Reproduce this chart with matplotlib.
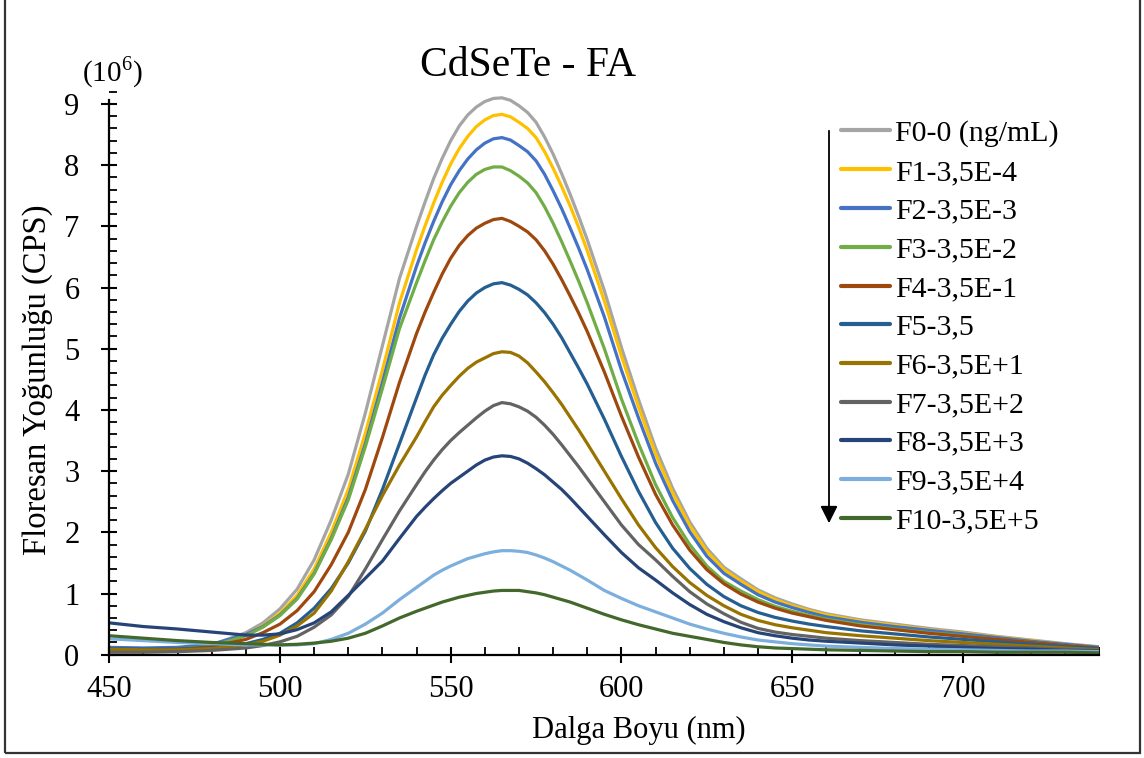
import matplotlib
matplotlib.use("Agg")
import matplotlib.pyplot as plt
from matplotlib.patches import Rectangle, FancyArrowPatch
from matplotlib.ticker import MultipleLocator

# Emission wavelengths (nm); denser sampling around the emission maximum
wavelength = [450, 460, 470, 480, 490,
              495, 500, 505, 510, 515, 520, 525, 530, 535, 540,
              542.5, 545, 547.5, 550, 552.5, 555, 557.5, 560, 562.5, 565,
              567.5, 570, 572.5, 575, 577.5, 580, 582.5, 585, 587.5, 590,
              595, 600, 605, 610, 615, 620, 625, 630, 635, 640,
              645, 650, 655, 660,
              670, 680, 690, 700, 710, 720, 730, 740]

# Fluorescence intensity (x10^6 CPS) per folic acid concentration
F0 = [0.05, 0.06, 0.09, 0.16, 0.36,
      0.52, 0.75, 1.07, 1.55, 2.20, 2.95, 3.95, 5.05, 6.15, 7.00,
      7.40, 7.78, 8.11, 8.40, 8.64, 8.82, 8.95, 9.04, 9.09, 9.10,
      9.06, 8.97, 8.86, 8.70, 8.46, 8.18, 7.86, 7.52, 7.16, 6.78,
      5.95, 5.02, 4.17, 3.38, 2.72, 2.17, 1.74, 1.43, 1.24, 1.06,
      0.93, 0.83, 0.74, 0.67,
      0.57, 0.50, 0.43, 0.37, 0.30, 0.24, 0.18, 0.13]
F1 = [0.06, 0.07, 0.09, 0.15, 0.33,
      0.47, 0.68, 0.97, 1.40, 2.00, 2.70, 3.62, 4.65, 5.75, 6.62,
      7.01, 7.38, 7.72, 8.02, 8.27, 8.47, 8.63, 8.74, 8.81, 8.83,
      8.79, 8.70, 8.60, 8.45, 8.22, 7.95, 7.65, 7.33, 6.98, 6.60,
      5.78, 4.88, 4.05, 3.28, 2.64, 2.11, 1.69, 1.39, 1.20, 1.03,
      0.90, 0.80, 0.72, 0.65,
      0.55, 0.48, 0.41, 0.35, 0.29, 0.23, 0.17, 0.12]
F2 = [0.12, 0.11, 0.12, 0.17, 0.33,
      0.46, 0.65, 0.92, 1.33, 1.90, 2.57, 3.45, 4.45, 5.50, 6.35,
      6.73, 7.08, 7.40, 7.68, 7.91, 8.10, 8.25, 8.36, 8.43, 8.45,
      8.41, 8.32, 8.22, 8.07, 7.85, 7.58, 7.29, 6.97, 6.64, 6.29,
      5.52, 4.65, 3.87, 3.13, 2.52, 2.01, 1.61, 1.33, 1.15, 0.98,
      0.86, 0.77, 0.69, 0.62,
      0.53, 0.46, 0.40, 0.34, 0.28, 0.22, 0.17, 0.12]
F3 = [0.07, 0.07, 0.09, 0.14, 0.31,
      0.45, 0.64, 0.91, 1.32, 1.88, 2.53, 3.40, 4.35, 5.33, 6.08,
      6.44, 6.78, 7.07, 7.33, 7.55, 7.72, 7.85, 7.93, 7.97, 7.97,
      7.91, 7.82, 7.71, 7.55, 7.32, 7.05, 6.75, 6.43, 6.10, 5.75,
      5.00, 4.18, 3.45, 2.78, 2.24, 1.80, 1.45, 1.20, 1.04, 0.90,
      0.79, 0.71, 0.64, 0.58,
      0.49, 0.42, 0.36, 0.31, 0.25, 0.20, 0.15, 0.11]
F4 = [0.08, 0.08, 0.09, 0.13, 0.25,
      0.36, 0.50, 0.72, 1.03, 1.47, 2.00, 2.70, 3.55, 4.45, 5.25,
      5.60, 5.92, 6.22, 6.48, 6.69, 6.85, 6.97, 7.05, 7.11, 7.13,
      7.08, 7.00, 6.91, 6.78, 6.60, 6.38, 6.13, 5.86, 5.58, 5.28,
      4.62, 3.90, 3.23, 2.62, 2.12, 1.71, 1.39, 1.16, 0.99, 0.86,
      0.76, 0.68, 0.62, 0.56,
      0.47, 0.41, 0.35, 0.30, 0.25, 0.20, 0.15, 0.11]
F5 = [0.10, 0.09, 0.09, 0.11, 0.18,
      0.25, 0.35, 0.52, 0.76, 1.08, 1.50, 2.02, 2.70, 3.45, 4.20,
      4.57, 4.90, 5.17, 5.40, 5.61, 5.78, 5.91, 6.00, 6.06, 6.08,
      6.04, 5.97, 5.88, 5.75, 5.59, 5.40, 5.18, 4.93, 4.68, 4.42,
      3.85, 3.24, 2.67, 2.16, 1.74, 1.41, 1.15, 0.95, 0.80, 0.69,
      0.61, 0.55, 0.50, 0.46,
      0.39, 0.34, 0.29, 0.25, 0.21, 0.17, 0.13, 0.10]
F6 = [0.09, 0.08, 0.08, 0.10, 0.16,
      0.22, 0.32, 0.47, 0.68, 1.04, 1.52, 2.05, 2.60, 3.10, 3.56,
      3.81, 4.05, 4.24, 4.40, 4.55, 4.68, 4.78, 4.85, 4.92, 4.95,
      4.94, 4.88, 4.77, 4.62, 4.46, 4.28, 4.09, 3.88, 3.67, 3.45,
      3.00, 2.55, 2.12, 1.75, 1.44, 1.18, 0.97, 0.80, 0.66, 0.56,
      0.49, 0.44, 0.40, 0.36,
      0.31, 0.27, 0.23, 0.20, 0.17, 0.14, 0.11, 0.08]
F7 = [0.04, 0.04, 0.05, 0.07, 0.11,
      0.15, 0.21, 0.30, 0.45, 0.65, 0.95, 1.40, 1.88, 2.35, 2.78,
      2.99, 3.18, 3.35, 3.50, 3.63, 3.75, 3.87, 3.98, 4.07, 4.12,
      4.10, 4.05, 3.98, 3.88, 3.75, 3.60, 3.43, 3.25, 3.07, 2.88,
      2.50, 2.12, 1.80, 1.55, 1.28, 1.03, 0.83, 0.67, 0.53, 0.43,
      0.37, 0.33, 0.30, 0.27,
      0.23, 0.20, 0.17, 0.15, 0.13, 0.11, 0.09, 0.07]
F8 = [0.52, 0.46, 0.42, 0.37, 0.32,
      0.32, 0.34, 0.41, 0.52, 0.70, 0.97, 1.25, 1.53, 1.90, 2.26,
      2.41, 2.55, 2.68, 2.80, 2.90, 3.00, 3.10, 3.18, 3.23, 3.25,
      3.24, 3.20, 3.13, 3.04, 2.94, 2.82, 2.70, 2.56, 2.41, 2.26,
      1.96, 1.67, 1.42, 1.22, 1.01, 0.82, 0.66, 0.54, 0.44, 0.36,
      0.31, 0.27, 0.24, 0.22,
      0.19, 0.16, 0.14, 0.12, 0.10, 0.09, 0.07, 0.06]
F9 = [0.26, 0.23, 0.20, 0.18, 0.16,
      0.16, 0.16, 0.16, 0.18, 0.25, 0.35, 0.50, 0.68, 0.90, 1.10,
      1.20, 1.30, 1.38, 1.45, 1.51, 1.57, 1.61, 1.65, 1.68, 1.70,
      1.70, 1.69, 1.67, 1.63, 1.58, 1.52, 1.45, 1.38, 1.30, 1.22,
      1.05, 0.92, 0.80, 0.70, 0.60, 0.50, 0.42, 0.35, 0.29, 0.24,
      0.21, 0.18, 0.16, 0.14,
      0.12, 0.10, 0.09, 0.08, 0.07, 0.06, 0.06, 0.05]
F10 = [0.31, 0.27, 0.23, 0.20, 0.18,
       0.17, 0.16, 0.17, 0.19, 0.22, 0.27, 0.35, 0.47, 0.60, 0.71,
       0.76, 0.81, 0.86, 0.90, 0.94, 0.97, 1.00, 1.02, 1.04, 1.05,
       1.05, 1.05, 1.03, 1.01, 0.98, 0.94, 0.90, 0.86, 0.81, 0.76,
       0.66, 0.57, 0.49, 0.42, 0.35, 0.30, 0.25, 0.20, 0.16, 0.13,
       0.11, 0.10, 0.09, 0.08,
       0.07, 0.06, 0.05, 0.05, 0.04, 0.04, 0.04, 0.03]

series = [F0, F1, F2, F3, F4, F5, F6, F7, F8, F9, F10]
labels = ["F0-0 (ng/mL)", "F1-3,5E-4", "F2-3,5E-3", "F3-3,5E-2",
          "F4-3,5E-1", "F5-3,5", "F6-3,5E+1", "F7-3,5E+2",
          "F8-3,5E+3", "F9-3,5E+4", "F10-3,5E+5"]
colors = ["#A5A5A5", "#FFC000", "#4472C4", "#70AD47", "#9E480E",
          "#255E91", "#997300", "#636363", "#264478", "#7CAFDD",
          "#43682B"]

x_ticks = [450, 500, 550, 600, 650, 700]
y_ticks = [0, 1, 2, 3, 4, 5, 6, 7, 8, 9]

plt.rcParams["font.family"] = ["Liberation Serif", "DejaVu Serif"]
plt.rcParams["mathtext.fontset"] = "custom"
plt.rcParams["mathtext.rm"] = "Liberation Serif"

W, H = 1144, 758
fig = plt.figure(figsize=(W / 100, H / 100), dpi=100)

def fx(px):
    return px / W

def fy(py):
    return 1 - py / H

ax_left, ax_right = 109.3, 1099.4
ax_bottom, ax_top = 654.7, 91.7
ax = fig.add_axes([fx(ax_left), fy(ax_bottom),
                   (ax_right - ax_left) / W, (ax_bottom - ax_top) / H])

for vals, lab, col in zip(series, labels, colors):
    ax.plot(wavelength, vals, color=col, lw=2.3, label=lab,
            solid_capstyle="round", solid_joinstyle="round")

ax.set_xlim(450, 740)
ax.set_ylim(0, 9.2)
ax.set_xticks(x_ticks)
ax.set_yticks(y_ticks)
ax.xaxis.set_minor_locator(MultipleLocator(10))
ax.yaxis.set_minor_locator(MultipleLocator(0.2))

for side in ("top", "right"):
    ax.spines[side].set_visible(False)
for side in ("left", "bottom"):
    ax.spines[side].set_linewidth(1.6)
    ax.spines[side].set_color("black")
ax.spines["left"].set_bounds(0, 9.06)

ax.tick_params(axis="both", which="major", direction="inout", length=11,
               width=1.5, labelsize=22, color="black")
ax.tick_params(axis="both", which="minor", direction="in", length=6,
               width=1.3, color="black")
ax.tick_params(axis="x", which="major", pad=9)
ax.tick_params(axis="y", which="major", pad=16)

fig.text(fx(639), fy(730), "Dalga Boyu (nm)", fontsize=22,
         ha="center", va="center")
fig.text(fx(38), fy(380), "Floresan Yoğunluğu (CPS)", fontsize=23.5,
         ha="center", va="center", rotation=90)

fig.text(fx(528), fy(66), "CdSeTe - FA", fontsize=30, ha="center", va="center")
fig.text(fx(112), fy(72), r"(10$^6$)", fontsize=21, ha="center", va="center")

leg = ax.legend(loc="upper left", bbox_to_anchor=(fx(841), fy(120)),
                bbox_transform=fig.transFigure, frameon=False, fontsize=21.5,
                handlelength=1.65, handletextpad=0.15, labelspacing=0.395,
                borderpad=0, borderaxespad=0)
for line in leg.get_lines():
    line.set_linewidth(3.0)

arrow = FancyArrowPatch((fx(829), fy(128)), (fx(829), fy(526)),
                        transform=fig.transFigure, arrowstyle="-|>",
                        mutation_scale=26, lw=1.3, color="black")
fig.add_artist(arrow)

border = Rectangle((fx(5), fy(753)), fx(1140) - fx(5), 1.2,
                   transform=fig.transFigure, fill=False,
                   edgecolor="#333333", lw=1.6)
fig.add_artist(border)

fig.savefig("out.png", dpi=100)
